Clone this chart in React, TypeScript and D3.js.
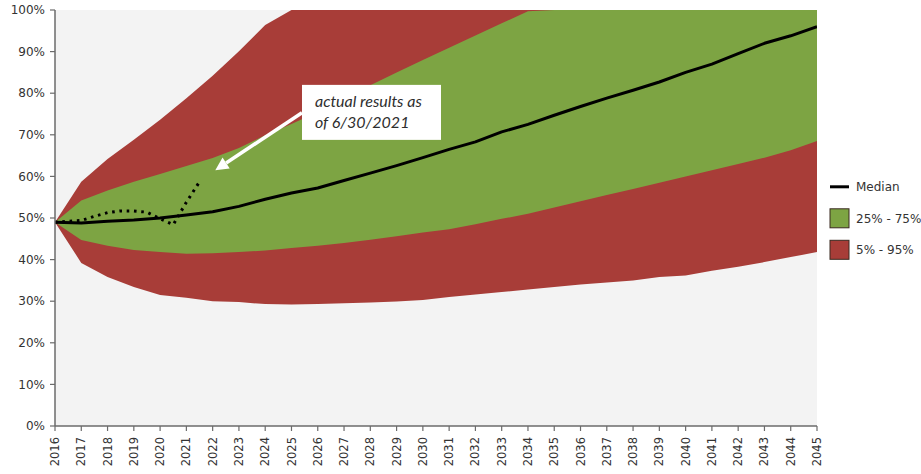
import React from "react";
import * as d3 from "d3";

// Projection years (fiscal year ends)
const years: number[] = d3.range(2016, 2046);

// Median funded ratio (%)
const median: number[] = [
  49, 48.8, 49.2, 49.5, 50, 50.7, 51.5, 52.8, 54.5, 56, 57.2, 59, 60.8, 62.6, 64.5,
  66.5, 68.3, 70.7, 72.5, 74.7, 76.8, 78.8, 80.7, 82.7, 85, 87, 89.5, 92, 93.8, 96,
];

// 25th / 75th percentile band (%)
const p25: number[] = [
  49, 44.7, 43.3, 42.3, 41.8, 41.4, 41.5, 41.8, 42.2, 42.8, 43.3, 44, 44.8, 45.6, 46.5,
  47.3, 48.5, 49.8, 51, 52.5, 54, 55.5, 57, 58.5, 60, 61.5, 63, 64.5, 66.3, 68.5,
];
const p75: number[] = [
  49, 54.2, 56.6, 58.7, 60.6, 62.5, 64.4, 66.8, 69.9, 72.6, 75.5, 78.7, 81.9, 85, 88,
  90.9, 93.9, 96.8, 99.7, 100, 100, 100, 100, 100, 100, 100, 100, 100, 100, 100,
];

// 5th / 95th percentile band (%)
const p5: number[] = [
  49, 39.2, 35.8, 33.4, 31.5, 30.8, 30, 29.8, 29.3, 29.2, 29.3, 29.5, 29.7, 29.9, 30.3,
  31, 31.6, 32.2, 32.8, 33.4, 34, 34.5, 35, 35.8, 36.2, 37.3, 38.3, 39.4, 40.6, 41.8,
];
const p95: number[] = [
  49, 58.7, 64.2, 68.8, 73.6, 78.8, 84.2, 90.1, 96.4, 100, 100, 100, 100, 100, 100,
  100, 100, 100, 100, 100, 100, 100, 100, 100, 100, 100, 100, 100, 100, 100,
];

// Actual results, semi-annual, through 6/30/2021
const actualDates: number[] = [
  2016, 2016.5, 2017, 2017.5, 2018, 2018.5, 2019, 2019.5, 2020, 2020.5, 2021, 2021.5,
];
const actualValues: number[] = [
  49, 49.2, 49.4, 50.4, 51.3, 51.7, 51.7, 51.4, 49.8, 48.4, 53.8, 58.7,
];

const yTicks: number[] = d3.range(0, 101, 10);

const legendItems = [
  { label: "Median", kind: "line" },
  { label: "25% - 75%", kind: "green" },
  { label: "5% - 95%", kind: "red" },
];

const annotationLines: string[] = ["actual results as", "of 6/30/2021"];

const WIDTH = 921;
const HEIGHT = 474;
const margin = { left: 55, top: 10, right: 104, bottom: 48 };
const GREEN = "#7da443";
const RED = "#a83d38";
const AXIS = "#6b6b6b";
const FONT = "'DejaVu Sans', Verdana, sans-serif";

export default function App() {
  const x = d3
    .scaleLinear()
    .domain([2016, 2045])
    .range([margin.left, WIDTH - margin.right]);
  const y = d3
    .scaleLinear()
    .domain([0, 100])
    .range([HEIGHT - margin.bottom, margin.top]);

  const band = (lo: number[], hi: number[]) =>
    d3
      .area<number>()
      .x((d) => x(d))
      .y0((_, i) => y(lo[i]))
      .y1((_, i) => y(hi[i]))(years) || "";

  const medianPath =
    d3
      .line<number>()
      .x((d) => x(d))
      .y((_, i) => y(median[i]))(years) || "";

  const actualPath =
    d3
      .line<number>()
      .x((d) => x(d))
      .y((_, i) => y(actualValues[i]))(actualDates) || "";

  const x0 = x(2016);
  const x1 = x(2045);
  const yTop = y(100);
  const yBottom = y(0);

  // annotation placement in data units
  const boxX = x(2025.4);
  const boxY = y(82);
  const boxW = 139;
  const boxH = 55;
  const arrowFrom: [number, number] = [x(2025.4), y(75.3)];
  const arrowTo: [number, number] = [x(2022.1), y(61.5)];
  const ang = Math.atan2(arrowTo[1] - arrowFrom[1], arrowTo[0] - arrowFrom[0]);
  const headLen = 13;
  const headHalf = 6.5;
  const baseX = arrowTo[0] - headLen * Math.cos(ang);
  const baseY = arrowTo[1] - headLen * Math.sin(ang);
  const head = [
    [arrowTo[0], arrowTo[1]],
    [baseX + headHalf * Math.sin(ang), baseY - headHalf * Math.cos(ang)],
    [baseX - headHalf * Math.sin(ang), baseY + headHalf * Math.cos(ang)],
  ]
    .map((p) => p.join(","))
    .join(" ");

  const legendX = x1 + 13;
  const legendY0 = y(57.5);
  const legendStep = 31.5;

  return (
    <svg
      width={WIDTH}
      height={HEIGHT}
      style={{ position: "absolute", left: 0, top: 0, background: "#ffffff" }}
    >
      <defs>
        <clipPath id="plot-clip">
          <rect x={x0} y={yTop} width={x1 - x0} height={yBottom - yTop} />
        </clipPath>
      </defs>

      <rect x={x0} y={yTop} width={x1 - x0} height={yBottom - yTop} fill="#f3f3f3" />

      <g clipPath="url(#plot-clip)">
        <path d={band(p5, p95)} fill={RED} />
        <path d={band(p25, p75)} fill={GREEN} />
        <path
          d={medianPath}
          fill="none"
          stroke="#000"
          strokeWidth={3}
          strokeLinejoin="round"
        />
        <path
          d={actualPath}
          fill="none"
          stroke="#000"
          strokeWidth={3}
          strokeDasharray="2.6 4.7"
        />
      </g>

      {/* y axis */}
      <line x1={x0} x2={x0} y1={yTop} y2={yBottom} stroke={AXIS} strokeWidth={1.5} />
      {yTicks.map((t) => (
        <g key={t}>
          <line x1={x0 - 5} x2={x0} y1={y(t)} y2={y(t)} stroke={AXIS} strokeWidth={1.2} />
          <text
            x={x0 - 10}
            y={y(t)}
            dy="0.35em"
            textAnchor="end"
            fontFamily={FONT}
            fontSize={12}
            fill="#333"
          >
            {t}%
          </text>
        </g>
      ))}

      {/* x axis */}
      <line x1={x0} x2={x1} y1={yBottom} y2={yBottom} stroke={AXIS} strokeWidth={1.5} />
      {years.map((yr) => (
        <g key={yr}>
          <line
            x1={x(yr)}
            x2={x(yr)}
            y1={yBottom}
            y2={yBottom + 5}
            stroke={AXIS}
            strokeWidth={1.2}
          />
          <text
            transform={`translate(${x(yr)},${yBottom + 11}) rotate(-90)`}
            dy="0.35em"
            textAnchor="end"
            fontFamily={FONT}
            fontSize={11.5}
            fill="#333"
          >
            {yr}
          </text>
        </g>
      ))}

      {/* annotation */}
      <line
        x1={arrowFrom[0]}
        y1={arrowFrom[1]}
        x2={baseX}
        y2={baseY}
        stroke="#fff"
        strokeWidth={3.5}
      />
      <polygon points={head} fill="#fff" />
      <rect x={boxX} y={boxY} width={boxW} height={boxH} fill="#fff" />
      {annotationLines.map((s, i) => (
        <text
          key={s}
          x={boxX + 13}
          y={boxY + 22 + i * 21}
          fontFamily="Lato, 'Open Sans', sans-serif"
          fontStyle="italic"
          fontSize={16}
          fill="#2e2e2e"
        >
          {s}
        </text>
      ))}

      {/* legend */}
      {legendItems.map((item, i) => {
        const cy = legendY0 + i * legendStep;
        return (
          <g key={item.label}>
            {item.kind === "line" ? (
              <line
                x1={legendX}
                x2={legendX + 19}
                y1={cy}
                y2={cy}
                stroke="#000"
                strokeWidth={3}
              />
            ) : (
              <rect
                x={legendX}
                y={cy - 9.5}
                width={19}
                height={19}
                fill={item.kind === "green" ? GREEN : RED}
                stroke="#3a2a20"
                strokeWidth={1}
              />
            )}
            <text
              x={legendX + 26}
              y={cy}
              dy="0.35em"
              fontFamily={FONT}
              fontSize={12}
              fill="#333"
            >
              {item.label}
            </text>
          </g>
        );
      })}
    </svg>
  );
}
